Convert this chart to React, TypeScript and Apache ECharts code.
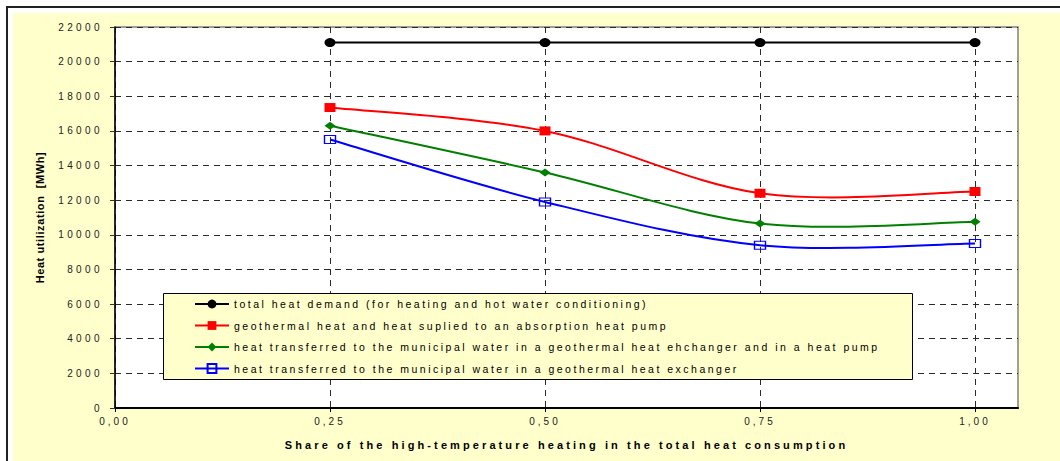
import React, { useEffect, useRef } from 'react';
import * as echarts from 'echarts';

const xValues = [0.25, 0.5, 0.75, 1.0];
const totalDemand = [21100, 21100, 21100, 21100];
const geothermalAbsorption = [17350, 16000, 12400, 12500];
const transferredExchangerPump = [16300, 13600, 10650, 10750];
const transferredExchanger = [15500, 11900, 9400, 9500];
const xTicks = [0, 0.25, 0.5, 0.75, 1.0];

const seriesNames = [
  'total heat demand (for heating and hot water conditioning)',
  'geothermal heat and heat suplied to an absorption heat pump',
  'heat transferred to the municipal water in a geothermal heat ehchanger and in a heat pump',
  'heat transferred to the municipal water in a geothermal heat exchanger',
];
const seriesColors = ['#000000', '#FF0000', '#008000', '#0000FF'];
const xAxisTitle = 'Share of the high-temperature heating in the total heat consumption';
const yAxisTitle = 'Heat utilization  [MWh]';

const FONT = '"Liberation Sans", Arial, sans-serif';

const pairs = (arr: number[]) => xValues.map((x, i) => [x, arr[i]]);

// Excel-like smoothed curve (Catmull-Rom converted to cubic Bezier), drawn via the axes' scales
const smoothCurveSeries = (id: string, arr: number[], color: string) => ({
  id,
  name: id,
  type: 'custom',
  z: 2,
  silent: true,
  data: pairs(arr),
  renderItem: (params: any, api: any) => {
    if (params.dataIndex !== 0) return null;
    const pts = xValues.map((x, i) => api.coord([x, arr[i]]));
    const n = pts.length;
    let d = `M${pts[0][0]},${pts[0][1]}`;
    for (let i = 0; i < n - 1; i++) {
      const p0 = pts[Math.max(0, i - 1)];
      const p1 = pts[i];
      const p2 = pts[i + 1];
      const p3 = pts[Math.min(n - 1, i + 2)];
      const c1x = p1[0] + (p2[0] - p0[0]) / 6;
      const c1y = p1[1] + (p2[1] - p0[1]) / 6;
      const c2x = p2[0] - (p3[0] - p1[0]) / 6;
      const c2y = p2[1] - (p3[1] - p1[1]) / 6;
      d += ` C${c1x},${c1y} ${c2x},${c2y} ${p2[0]},${p2[1]}`;
    }
    return {
      type: 'path',
      shape: { pathData: d },
      style: { fill: 'none', stroke: color, lineWidth: 2 },
    };
  },
});

export default function App() {
  const ref = useRef<HTMLDivElement>(null);

  useEffect(() => {
    const el = ref.current!;
    const chart = echarts.init(el, undefined, { renderer: 'svg' });

    const applySpacing = () => {
      el.querySelectorAll('text').forEach((t) => {
        const s = (t.textContent || '').trim();
        let ls = '0px';
        if (/^\d+$/.test(s)) ls = '3.4px';
        else if (/^\d,\d+$/.test(s)) ls = '3px';
        else if (s === xAxisTitle) ls = '3.1px';
        else if (s === yAxisTitle) ls = '0.6px';
        else if (seriesNames.includes(s)) ls = '2.5px';
        (t as SVGTextElement).style.letterSpacing = ls;
      });
    };

    const markerLine = (idx: number, arr: number[], symbol: string, size: number[], itemStyle: any) => ({
      name: seriesNames[idx],
      type: 'line',
      z: 3,
      data: pairs(arr),
      symbol,
      symbolSize: size,
      itemStyle,
      lineStyle: { color: seriesColors[idx], width: 0, opacity: 0 },
    });

    const option: any = {
      animation: false,
      backgroundColor: '#ffffff',
      textStyle: { fontFamily: FONT },
      graphic: [
        {
          type: 'rect', z: -10, silent: true,
          shape: { x: 7, y: 7, width: 1100, height: 500 },
          style: { fill: '#ffffff', stroke: '#222222', lineWidth: 2 },
        },
        {
          type: 'rect', z: -9, silent: true,
          shape: { x: 13, y: 13, width: 1100, height: 500 },
          style: { fill: '#FFFFCC' },
        },
        {
          type: 'rect', z: 1, silent: true,
          shape: { x: 163.5, y: 293.5, width: 749, height: 86 },
          style: { fill: '#FFFFCC', stroke: '#000000', lineWidth: 1 },
        },
      ],
      grid: {
        left: 115, right: 42, top: 27, bottom: 53,
        show: true, backgroundColor: '#ffffff', borderColor: '#808080', borderWidth: 1.5,
      },
      legend: {
        orient: 'vertical',
        left: 194,
        top: 298,
        padding: 0,
        itemWidth: 34,
        itemHeight: 11,
        itemGap: 9.5,
        textStyle: { fontSize: 10.5, color: '#000', lineHeight: 12, fontFamily: FONT },
        data: seriesNames.map((name, i) => ({
          name,
          lineStyle: { color: seriesColors[i], width: 2, opacity: 1 },
        })),
      },
      xAxis: {
        type: 'value', min: 0, max: 1.05, interval: 0.25,
        axisLine: { show: true, onZero: false, lineStyle: { color: '#000', width: 2 } },
        axisTick: { show: true, length: 4, customValues: xTicks, lineStyle: { color: '#000' } },
        axisLabel: {
          customValues: xTicks,
          formatter: (v: number) => v.toFixed(2).replace('.', ','),
          margin: 8, fontSize: 10, color: '#222', fontFamily: FONT,
        },
        splitLine: { show: true, lineStyle: { type: [6, 5], color: '#2a2a2a', width: 1 } },
        name: xAxisTitle, nameLocation: 'middle', nameGap: 31,
        nameTextStyle: { fontWeight: 'bold', fontSize: 11, color: '#000', fontFamily: FONT },
      },
      yAxis: {
        type: 'value', min: 0, max: 22000, interval: 2000,
        axisLine: { show: true, lineStyle: { color: '#000', width: 1.5 } },
        axisTick: { show: true, length: 5, lineStyle: { color: '#333' } },
        axisLabel: {
          margin: 12, fontSize: 10, color: '#222', fontFamily: FONT,
          formatter: (v: number) => String(v),
        },
        splitLine: { show: true, lineStyle: { type: [6, 5], color: '#2a2a2a', width: 1 } },
        name: yAxisTitle, nameLocation: 'middle', nameGap: 70,
        nameTextStyle: { fontWeight: 'bold', fontSize: 11, color: '#000', fontFamily: FONT },
      },
      series: [
        {
          name: seriesNames[0], type: 'line', z: 3, data: pairs(totalDemand),
          symbol: 'circle', symbolSize: [11, 9],
          itemStyle: { color: '#000000' }, lineStyle: { color: '#000000', width: 2 },
        },
        markerLine(1, geothermalAbsorption, 'rect', [11, 9], { color: '#FF0000' }),
        markerLine(2, transferredExchangerPump, 'diamond', [11, 8], { color: '#008000' }),
        markerLine(3, transferredExchanger, 'rect', [11, 8], {
          color: 'rgba(0,0,0,0)', borderColor: '#0000FF', borderWidth: 1.2,
        }),
        smoothCurveSeries('curve-geothermal', geothermalAbsorption, seriesColors[1]),
        smoothCurveSeries('curve-exchanger-pump', transferredExchangerPump, seriesColors[2]),
        smoothCurveSeries('curve-exchanger', transferredExchanger, seriesColors[3]),
      ],
    };

    chart.setOption(option);
    applySpacing();
    chart.on('finished', applySpacing);

    return () => {
      chart.dispose();
    };
  }, []);

  return (
    <div
      ref={ref}
      style={{ position: 'absolute', left: 0, top: 0, width: 1060, height: 461 }}
    />
  );
}
